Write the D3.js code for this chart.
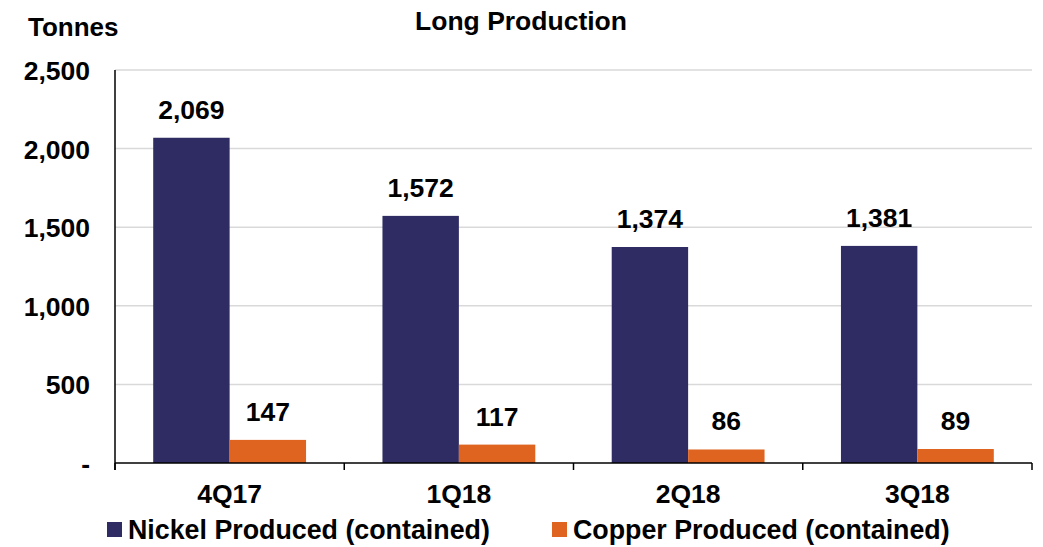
<!DOCTYPE html>
<html>
<head>
<meta charset="utf-8">
<script src="https://cdn.jsdelivr.net/npm/d3@7"></script>
<style>
  body { margin: 0; background: #fff; }
  text { font-family: "Liberation Sans", Arial, sans-serif; font-weight: bold; fill: #000; }
</style>
</head>
<body>
<div id="graph"></div>
<script>
// data
var quarters = ["4Q17", "1Q18", "2Q18", "3Q18"];
var seriesNames = ["Nickel Produced (contained)", "Copper Produced (contained)"];
var nickel = [2069, 1572, 1374, 1381];
var copper = [147, 117, 86, 89];
var yTicks = [0, 500, 1000, 1500, 2000, 2500];

// measurements
var width = 1043;
var height = 547;
var margin = { top: 70, right: 11, bottom: 84, left: 115 };
var colors = ["#2e2c62", "#df6420"];
var fontSize = "26.5px";

var chart;
var chartWidth = width - margin.left - margin.right;
var chartHeight = height - margin.top - margin.bottom;

init();

function init() {
    chart = d3.select("#graph").append("svg")
        .attr("width", width)
        .attr("height", height);

    chart.plotArea = chart.append("g")
        .attr("transform", "translate(" + margin.left + "," + margin.top + ")");

    chart.x0 = d3.scaleBand().domain(quarters).range([0, chartWidth]);
    chart.x1 = d3.scaleBand().domain([0, 1]).range([0, chart.x0.bandwidth()]).paddingOuter(0.5);
    chart.y = d3.scaleLinear().domain([0, 2500]).range([chartHeight, 0]);

    drawGrid();
    drawBars();
    drawAxis();
    drawText();
}

function drawGrid() {
    chart.plotArea.selectAll(".grid")
        .data(yTicks.slice(1))
        .enter().append("line")
        .attr("x1", 0)
        .attr("x2", chartWidth)
        .attr("y1", function (d) { return chart.y(d); })
        .attr("y2", function (d) { return chart.y(d); })
        .style("stroke", "#d9d9d9")
        .style("stroke-width", 1.5);
}

function drawBars() {
    var rows = quarters.map(function (q, i) { return { q: q, vals: [nickel[i], copper[i]] }; });

    var groups = chart.plotArea.selectAll(".group")
        .data(rows)
        .enter().append("g")
        .attr("transform", function (d) { return "translate(" + chart.x0(d.q) + ",0)"; });

    groups.selectAll("rect")
        .data(function (d) { return d.vals; })
        .enter().append("rect")
        .attr("x", function (d, i) { return chart.x1(i); })
        .attr("width", chart.x1.bandwidth())
        .attr("y", function (d) { return chart.y(d); })
        .attr("height", function (d) { return chartHeight - chart.y(d); })
        .style("fill", function (d, i) { return colors[i]; });

    groups.selectAll(".val")
        .data(function (d) { return d.vals; })
        .enter().append("text")
        .attr("class", "val")
        .attr("text-anchor", "middle")
        .style("font-size", fontSize)
        .attr("x", function (d, i) { return chart.x1(i) + chart.x1.bandwidth() / 2; })
        .attr("y", function (d) { return chart.y(d) - 19; })
        .text(function (d) { return d3.format(",")(d); });
}

function drawAxis() {
    // y axis
    chart.yAxis = d3.axisLeft(chart.y)
        .tickValues(yTicks)
        .tickSize(0)
        .tickPadding(25)
        .tickFormat(function (d) { return d === 0 ? "-" : d3.format(",")(d); });

    var ya = chart.append("g")
        .attr("transform", "translate(" + margin.left + "," + margin.top + ")")
        .call(chart.yAxis);
    ya.select(".domain").remove();
    ya.selectAll("text").style("font-size", fontSize).style("font-family", null).attr("dy", "0.36em");

    chart.append("line")
        .attr("x1", margin.left).attr("x2", margin.left)
        .attr("y1", margin.top).attr("y2", margin.top + chartHeight + 7)
        .style("stroke", "#000").style("stroke-width", 1.5);

    // x axis
    var boundaries = quarters.map(function (q) { return chart.x0(q); }).concat([chartWidth]);
    var xa = chart.append("g")
        .attr("transform", "translate(" + margin.left + "," + (margin.top + chartHeight) + ")");
    xa.append("line")
        .attr("x1", 0).attr("x2", chartWidth)
        .style("stroke", "#000").style("stroke-width", 1.5);
    xa.selectAll(".tick")
        .data(boundaries)
        .enter().append("line")
        .attr("x1", function (d) { return d; })
        .attr("x2", function (d) { return d; })
        .attr("y1", 0).attr("y2", 7)
        .style("stroke", "#000").style("stroke-width", 1.5);
    xa.selectAll(".cat")
        .data(quarters)
        .enter().append("text")
        .attr("text-anchor", "middle")
        .style("font-size", fontSize)
        .attr("x", function (d) { return chart.x0(d) + chart.x0.bandwidth() / 2; })
        .attr("y", 40)
        .text(function (d) { return d; });
}

function drawText() {
    chart.append("text")
        .attr("x", 521).attr("y", 30)
        .attr("text-anchor", "middle")
        .style("font-size", fontSize)
        .text("Long Production");

    chart.append("text")
        .attr("x", 28).attr("y", 36)
        .style("font-size", "26px")
        .text("Tonnes");

    // legend
    var legendX = [107, 552];
    var legend = chart.selectAll(".legend")
        .data(seriesNames)
        .enter().append("g")
        .attr("transform", function (d, i) { return "translate(" + legendX[i] + ",522)"; });
    legend.append("rect")
        .attr("width", 15).attr("height", 15)
        .style("fill", function (d, i) { return colors[i]; });
    legend.append("text")
        .attr("x", 21).attr("y", 17)
        .style("font-size", "26.8px")
        .text(function (d) { return d; });
}
</script>
</body>
</html>
